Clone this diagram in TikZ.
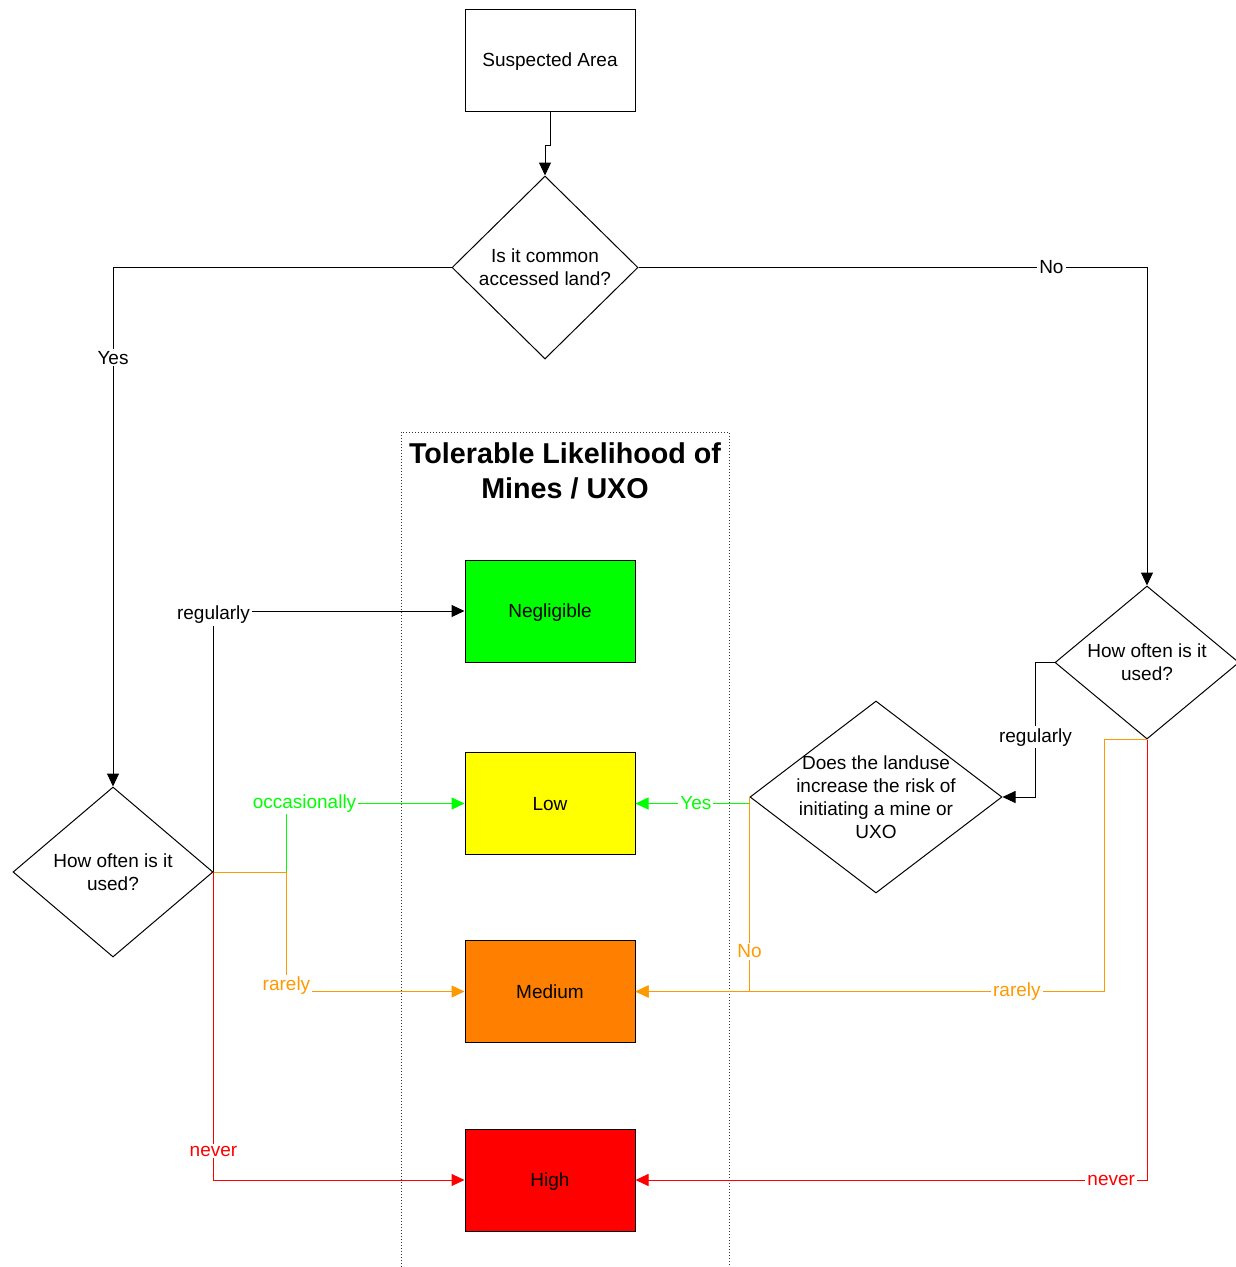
\documentclass[tikz,border=0pt]{standalone}
\usepackage{fontspec}
\setmainfont{Liberation Sans}
\usetikzlibrary{arrows.meta,shapes.geometric,calc}
\definecolor{cgreen}{RGB}{0,255,0}
\definecolor{cyellow}{RGB}{255,255,0}
\definecolor{cmed}{RGB}{255,128,0}
\definecolor{cred}{RGB}{255,0,0}
\definecolor{corange}{RGB}{255,153,0}
\begin{document}
\begin{tikzpicture}[x=1pt,y=-1pt,
  base/.style={font=\fontsize{19}{23}\selectfont},
  box/.style={base, draw=black, line width=1pt, minimum width=170pt, minimum height=102pt, inner sep=0pt, text depth=0pt},
  dia/.style={draw=black, line width=1pt, diamond, inner sep=0pt},
  txt/.style={base, align=center, inner sep=0pt},
  lbl/.style={base, fill=white, inner sep=2pt},
  conn/.style={line width=1pt},
  arr/.style={conn, -{Triangle[length=13pt,width=12pt]}},
]
\useasboundingbox (0,0) rectangle (1236,1267);
\fill[white] (0,0) rectangle (1236,1267);

% frame
\draw[line width=0.9pt, dash pattern=on 1pt off 2pt, black!80] (401,1267) -- (401,432) -- (729,432) -- (729,1267);
\node[font=\fontsize{28.7}{35}\selectfont\bfseries, align=center, inner sep=0pt] (title) at (565,471) {Tolerable Likelihood of\\Mines / UXO};

% boxes
\node[box] (sa) at (550,60) {Suspected Area};
\node[box, fill=cgreen] (neg) at (550,611) {Negligible};
\node[box, fill=cyellow] (low) at (550,803.5) {Low};
\node[box, fill=cmed] (med) at (550,991.5) {Medium};
\node[box, fill=cred] (high) at (550,1180) {High};

% diamonds
\node[dia, minimum width=186pt, minimum height=183pt] (d1) at (545,267.5) {};
\node[txt] at (d1) {Is it common\\accessed land?};
\node[dia, minimum width=184pt, minimum height=153pt] (d2) at (1147,662.5) {};
\node[txt] at (d2) {How often is it\\used?};
\node[dia, minimum width=200pt, minimum height=170pt] (d3) at (113,872) {};
\node[txt] at (d3) {How often is it\\used?};
\node[dia, minimum width=252pt, minimum height=192pt] (d4) at (876,797) {};
\node[txt] at (d4) {Does the landuse\\increase the risk of\\initiating a mine or\\UXO};

% connectors
\draw[arr] (sa.south) -- ++(0,34) -| (d1.north);
\draw[arr] (d1.west) -| node[lbl,pos=0.587]{Yes} (d3.north);
\draw[arr] (d1.east) -| node[lbl,pos=0.406]{No} (d2.north);

\draw[arr] (d3.east) |- node[lbl,pos=0.5,yshift=-4pt]{regularly} (neg.west);
\draw[arr, cgreen] (d3.east) -- ++(73,0) |- node[lbl,pos=0.5,xshift=18pt]{occasionally} (low.west);
\draw[arr, corange] (d3.east) -- ++(73,0) |- node[lbl,pos=0.5,yshift=6pt]{rarely} (med.west);
\draw[arr, cred] (d3.east) |- node[lbl,pos=0.453]{never} (high.west);

\draw[arr] (d2.west) -- ++(-19,0) |- node[lbl,pos=0.278]{regularly} (d4.east);
\draw[arr, corange] (d2.south) -- ++(-43,0) |- node[lbl,pos=0.593]{rarely} (med.east);
\draw[arr, cred] (d2.south) |- node[lbl,pos=0.535]{never} (high.east);
\draw[arr, cgreen] (d4.west |- low.east) -- node[lbl,pos=0.47]{Yes} (low.east);
\draw[arr, corange] (d4.west) |- node[lbl,pos=0.397]{No} (med.east);
\end{tikzpicture}
\end{document}
